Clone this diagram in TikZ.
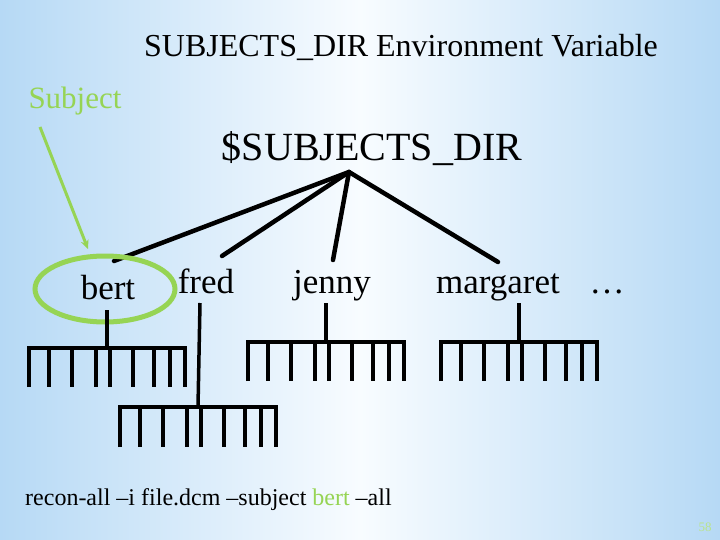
\documentclass[tikz,border=0pt]{standalone}
\usepackage{fontspec}
\setmainfont{Liberation Serif}
\usetikzlibrary{arrows.meta}
\definecolor{bgblue}{RGB}{182,217,245}
\definecolor{bgwhite}{RGB}{248,252,255}
\definecolor{subjgreen}{RGB}{150,212,84}
\definecolor{pagegreen}{RGB}{185,228,140}
\tikzset{
  txt/.style={inner sep=0pt, text=black},
  branch/.style={line width=4.5pt, line cap=round},
  comb/.style={line width=3.5pt},
  greenline/.style={draw=subjgreen, line width=3pt},
}
\newcommand{\mycomb}[4]{% #1 left x, #2 bar y, #3 bottom y, #4 stem top y
  \draw[comb] (#1+78,#4) -- (#1+78,#2);
  \draw[comb] (#1,#3) -- (#1,#2) -- (#1+156,#2) -- (#1+156,#3);
  \foreach \dx in {20,43,67,81,104,125,141}{\draw[comb] (#1+\dx,#2) -- (#1+\dx,#3);}
}
\begin{document}
\begin{tikzpicture}[x=1pt,y=-1pt]
\useasboundingbox (0,0) rectangle (720,540);
\shade[left color=bgblue, right color=bgblue, middle color=bgwhite] (0,0) rectangle (720,540);

\node[txt, font=\fontsize{32}{34}\selectfont] (title) at (401,47) {SUBJECTS\_DIR Environment Variable};
\node[txt, font=\fontsize{31}{33}\selectfont, text=subjgreen] (subj) at (75,101) {Subject};
\node[txt, font=\fontsize{40}{42}\selectfont] (root) at (372,149) {\$SUBJECTS\_DIR};
\coordinate (apex) at (349,172);

\node[txt, font=\fontsize{35}{37}\selectfont, anchor=base] (bert) at (108,299) {bert};
\node[txt, font=\fontsize{35}{37}\selectfont, anchor=base] (fred) at (206,293) {fred};
\node[txt, font=\fontsize{35}{37}\selectfont, anchor=base] (jenny) at (332,293) {jenny};
\node[txt, font=\fontsize{35}{37}\selectfont, anchor=base] (marg) at (498,293) {margaret};
\node[txt, font=\fontsize{35}{37}\selectfont, anchor=base] (dots) at (607,293) {\ldots};

\coordinate (eb) at (114,261);
\coordinate (ef) at (222,256);
\coordinate (ej) at (333,260);
\coordinate (em) at (498,262);
\draw[branch] (apex) -- (eb);
\draw[branch] (apex) -- (ef);
\draw[branch] (apex) -- (ej);
\draw[branch] (apex) -- (em);

\draw[greenline, line width=5pt] (105,289) ellipse [x radius=70, y radius=33];
\coordinate (gs) at (40,127);
\coordinate (ge) at (88,249);
\draw[greenline, -{Stealth[length=9pt,width=8pt]}] (gs) -- (ge);

\mycomb{29}{348}{387}{310}
\draw[comb] (200,303) -- (198,407);
\mycomb{120}{407}{447}{407}
\mycomb{248}{342}{381}{303}
\mycomb{441}{342}{381}{303}

\node[txt, font=\fontsize{24}{26}\selectfont, anchor=base west] (cmd) at (25,505) {recon-all –i file.dcm –subject \textcolor{subjgreen}{bert} –all};
\node[txt, font=\fontsize{13}{14}\selectfont, text=pagegreen] (page) at (705,527) {58};
\end{tikzpicture}
\end{document}
